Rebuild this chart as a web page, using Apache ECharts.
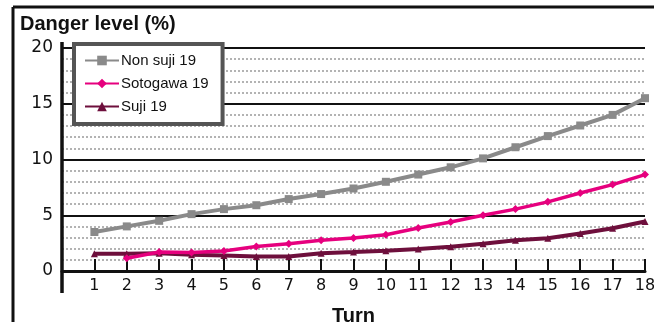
<!DOCTYPE html>
<html>
<head>
<meta charset="utf-8">
<script src="https://cdn.jsdelivr.net/npm/echarts@6/dist/echarts.min.js"></script>
<style>
  html, body { margin: 0; padding: 0; background: #fff; }
  #chart { width: 654px; height: 322px; }
</style>
</head>
<body>
<div id="chart"></div>
<script>
// Turn numbers along the horizontal axis
const turns = [1, 2, 3, 4, 5, 6, 7, 8, 9, 10, 11, 12, 13, 14, 15, 16, 17, 18];

// Danger level (%) per turn for each tile type
const nonSuji19 = [3.5, 4.0, 4.5, 5.1, 5.55, 5.9, 6.45, 6.9, 7.4, 8.0, 8.65, 9.3, 10.1, 11.1, 12.1, 13.05, 14.0, 15.5];
const sotogawa19 = [null, 1.15, 1.7, 1.65, 1.8, 2.2, 2.45, 2.75, 2.95, 3.25, 3.85, 4.4, 5.0, 5.55, 6.2, 7.0, 7.75, 8.65];
const suji19 = [1.55, 1.55, 1.6, 1.45, 1.4, 1.3, 1.3, 1.6, 1.7, 1.82, 1.98, 2.17, 2.44, 2.75, 2.93, 3.37, 3.83, 4.44];

const seriesNames = ['Non suji 19', 'Sotogawa 19', 'Suji 19'];

const toPoints = vals => turns.map((t, i) => [t, vals[i]]);

const chart = echarts.init(document.getElementById('chart'), null, { renderer: 'canvas' });

const numFont = 'DejaVu Sans';

chart.setOption({
  animation: false,
  backgroundColor: '#ffffff',
  title: {
    text: 'Danger level (%)',
    left: 20,
    top: 14,
    padding: 0,
    textStyle: { fontFamily: 'Liberation Sans', fontWeight: 'bold', fontSize: 20, color: '#111' }
  },
  grid: { left: 62, right: 9, top: 48, bottom: 51, containLabel: false, outerBoundsMode: 'none' },
  legend: {
    orient: 'vertical',
    left: 74,
    top: 44,
    data: seriesNames,
    backgroundColor: '#ffffff',
    borderColor: '#555555',
    borderWidth: 4,
    padding: [9, 14, 10, 10],
    itemWidth: 34,
    itemHeight: 12,
    itemGap: 8,
    textStyle: { fontFamily: 'Liberation Sans', fontSize: 15, color: '#111', padding: [0, 0, 0, -3] }
  },
  xAxis: {
    type: 'value',
    min: 0,
    max: 18,
    interval: 1,
    name: 'Turn',
    nameLocation: 'middle',
    nameGap: 35,
    nameTextStyle: { fontFamily: 'Liberation Sans', fontWeight: 'bold', fontSize: 20, color: '#111' },
    axisLine: { show: true, lineStyle: { color: '#111', width: 3 } },
    axisTick: { show: true, inside: true, length: 12, lineStyle: { color: '#111', width: 2 } },
    axisLabel: {
      margin: 7,
      fontFamily: numFont,
      fontSize: 16,
      color: '#111',
      formatter: v => (v === 0 ? '' : String(v))
    },
    splitLine: { show: false }
  },
  yAxis: {
    type: 'value',
    min: 0,
    max: 20,
    interval: 5,
    axisLine: { show: false },
    axisTick: { show: false },
    axisLabel: { margin: 9, fontFamily: numFont, fontSize: 17, color: '#111' },
    splitLine: { show: true, lineStyle: { color: '#111', width: 2 } },
    minorTick: { show: false, splitNumber: 5 },
    minorSplitLine: { show: true, lineStyle: { color: '#9a9a9a', width: 1.5, type: [2, 2] } }
  },
  graphic: [
    // outer frame: left and top edges
    { type: 'line', shape: { x1: 13, y1: 7, x2: 13, y2: 322 }, style: { stroke: '#111', lineWidth: 3 }, z: 10 },
    { type: 'line', shape: { x1: 13, y1: 7, x2: 654, y2: 7 }, style: { stroke: '#111', lineWidth: 3 }, z: 10 },
    // vertical axis line, running a little past the plot on both ends
    { type: 'line', shape: { x1: 62, y1: 42, x2: 62, y2: 293 }, style: { stroke: '#111', lineWidth: 3.5 }, z: 10 }
  ],
  series: [
    {
      name: seriesNames[0],
      type: 'line',
      data: toPoints(nonSuji19),
      symbol: 'rect',
      symbolSize: 8,
      lineStyle: { color: '#8a8a8a', width: 4 },
      itemStyle: { color: '#8a8a8a' },
      z: 3
    },
    {
      name: seriesNames[1],
      type: 'line',
      data: toPoints(sotogawa19),
      symbol: 'diamond',
      symbolSize: 8,
      lineStyle: { color: '#e6007e', width: 3.5 },
      itemStyle: { color: '#e6007e' },
      z: 4
    },
    {
      name: seriesNames[2],
      type: 'line',
      data: toPoints(suji19),
      symbol: 'triangle',
      symbolSize: 7,
      lineStyle: { color: '#6e0f3c', width: 4 },
      itemStyle: { color: '#6e0f3c' },
      z: 3
    }
  ]
});
</script>
</body>
</html>
